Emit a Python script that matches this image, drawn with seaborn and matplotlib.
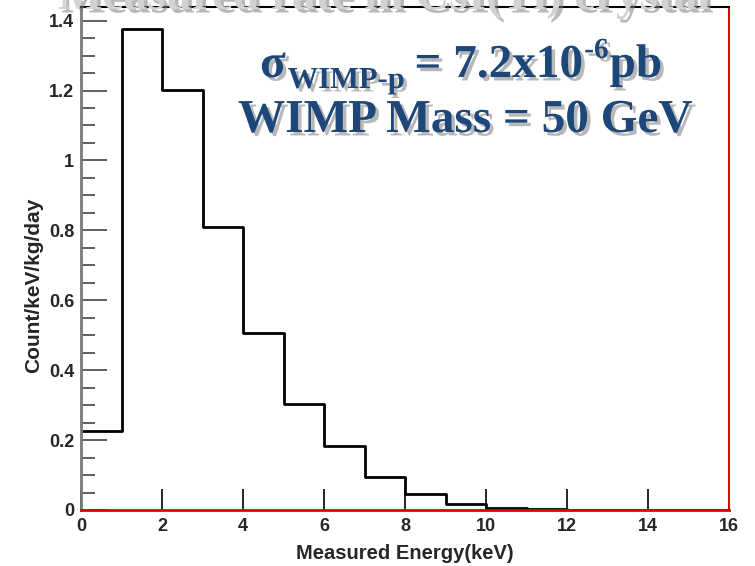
import matplotlib
matplotlib.use("Agg")
import matplotlib.pyplot as plt
import matplotlib.patheffects as pe
from matplotlib.ticker import MultipleLocator, FixedLocator, NullLocator
import pandas as pd
import seaborn as sns

# Measured rate per 1 keV bin
bin_edges = [0, 1, 2, 3, 4, 5, 6, 7, 8, 9, 10, 11, 12, 13, 14, 15, 16]
rate = [0.226, 1.375, 1.202, 0.810, 0.506, 0.303, 0.184, 0.095,
        0.046, 0.018, 0.005, 0.002, 0.001, 0.001, 0.0005, 0.0003]

x_ticks = [0, 2, 4, 6, 8, 10, 12, 14, 16]
y_ticks = [0, 0.2, 0.4, 0.6, 0.8, 1.0, 1.2, 1.4]
y_tick_labels = ["0", "0.2", "0.4", "0.6", "0.8", "1", "1.2", "1.4"]

title_text = "Measured rate in CsI(Tl) crystal"
mass_text = "WIMP Mass = 50 GeV"
# cross-section line: symbol, subscript, value, exponent, unit
sigma_parts = ["σ", "WIMP-p", "= 7.2x10", "-6", "pb"]

sns.set_theme(style="ticks")
plt.rcParams["font.family"] = ["Liberation Sans", "DejaVu Sans"]
plt.rcParams["font.weight"] = "bold"

centers = [(a + b) / 2 for a, b in zip(bin_edges[:-1], bin_edges[1:])]
df = pd.DataFrame({"energy": centers, "rate": rate})

W, H = 755, 566
fig = plt.figure(figsize=(W / 100, H / 100), dpi=100)
ax = fig.add_axes([81 / W, 56 / H, 648 / W, 503 / H])

sns.histplot(data=df, x="energy", weights="rate", bins=bin_edges,
             element="step", fill=False, color="black", linewidth=2,
             ax=ax)

ax.set_xlim(0, 16)
ax.set_ylim(0, 1.439)

ax.xaxis.set_major_locator(FixedLocator(x_ticks))
ax.xaxis.set_minor_locator(NullLocator())
ax.set_xticklabels([str(t) for t in x_ticks])
ax.yaxis.set_major_locator(FixedLocator(y_ticks))
ax.set_yticklabels(y_tick_labels)
ax.yaxis.set_minor_locator(MultipleLocator(0.05))

ax.tick_params(axis="x", which="major", direction="in", length=15,
               width=1.2, color="black", pad=6, labelsize=13)
ax.tick_params(axis="y", which="major", direction="in", length=19,
               width=1.2, color="#444444", pad=5, labelsize=13)
ax.tick_params(axis="y", which="minor", direction="in", length=10,
               width=1.2, color="#444444")
for lab in ax.get_xticklabels() + ax.get_yticklabels():
    lab.set_fontweight("bold")

ax.spines["left"].set_color("#7a7a7a")
ax.spines["left"].set_linewidth(2)
ax.spines["top"].set_color("black")
ax.spines["top"].set_linewidth(1.5)
ax.spines["right"].set_color("#e00000")
ax.spines["right"].set_linewidth(1.5)
ax.spines["bottom"].set_color("#e00000")
ax.spines["bottom"].set_linewidth(2)
for s in ax.spines.values():
    s.set_visible(True)

ax.set_xlabel("Measured Energy(keV)", fontsize=14.5, fontweight="bold",
              labelpad=6)
ax.set_ylabel("Count/keV/kg/day", fontsize=15, fontweight="bold")
ax.yaxis.set_label_coords(-0.058, 0.447)

shadow = [pe.withSimplePatchShadow(offset=(2.5, -2.5),
                                   shadow_rgbFace="#7f7f7f", alpha=0.55)]
blue = "#1d4679"
serif = ["Liberation Serif", "DejaVu Serif"]
renderer = fig.canvas.get_renderer()


def put(x_px, base_px, s, size, color=blue):
    t = fig.text(x_px / W, 1 - base_px / H, s, color=color,
                 fontfamily=serif, fontweight="bold", fontsize=size,
                 ha="left", va="baseline", path_effects=shadow)
    return t.get_window_extent(renderer).x1


# cross-section annotation, built piece by piece
x = put(260, 77, sigma_parts[0], 34)
x = put(x + 2, 88, sigma_parts[1], 22)
x = put(x + 10, 77, sigma_parts[2], 34)
x = put(x + 1, 58, sigma_parts[3], 21)
put(x + 1, 77, sigma_parts[4], 34)

put(238, 132, mass_text, 34)

# slide title, mostly above the canvas
put(58, 9, title_text, 34, color="#d2d2d2")

fig.savefig("out.png", dpi=100)
